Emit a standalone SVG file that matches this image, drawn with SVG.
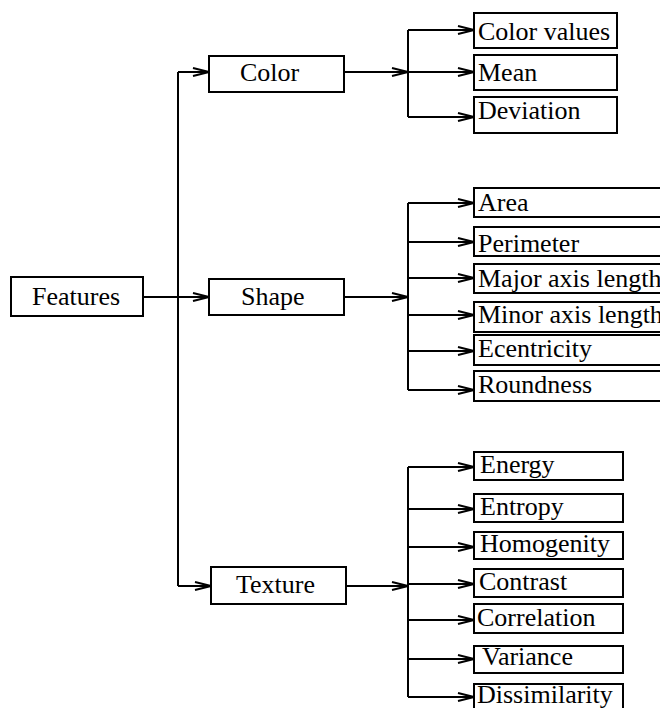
<svg xmlns="http://www.w3.org/2000/svg" width="660" height="708" viewBox="0 0 660 708">
<defs>
<marker id="arr" markerUnits="userSpaceOnUse" markerWidth="20" markerHeight="12" refX="17" refY="5" orient="auto">
<path d="M1,1 L17,5 L1,9" fill="none" stroke="#000" stroke-width="2"/>
</marker>
<style>
rect{fill:#fff;stroke:#000;stroke-width:2}
text{font-family:"Liberation Serif","Times New Roman",serif;font-size:26px;fill:#000}
.c path{fill:none;stroke:#000;stroke-width:2}
</style>
</defs>
<rect x="0" y="0" width="660" height="708" style="stroke:none"/>
<g class="c" id="connectors">
<path d="M178,72 V586"/>
<path d="M178,72 H209" marker-end="url(#arr)"/>
<path d="M143,297 H209" marker-end="url(#arr)"/>
<path d="M178,586 H211" marker-end="url(#arr)"/>
<path d="M344,72 H408" marker-end="url(#arr)"/>
<path d="M408,30 V117"/>
<path d="M408,30 H474" marker-end="url(#arr)"/>
<path d="M408,72 H474" marker-end="url(#arr)"/>
<path d="M408,117 H474" marker-end="url(#arr)"/>
<path d="M344,297 H408" marker-end="url(#arr)"/>
<path d="M408,203 V390"/>
<path d="M408,203 H474" marker-end="url(#arr)"/>
<path d="M408,242 H474" marker-end="url(#arr)"/>
<path d="M408,278 H474" marker-end="url(#arr)"/>
<path d="M408,315 H474" marker-end="url(#arr)"/>
<path d="M408,351 H474" marker-end="url(#arr)"/>
<path d="M408,390 H474" marker-end="url(#arr)"/>
<path d="M346,586 H408" marker-end="url(#arr)"/>
<path d="M408,467 V697"/>
<path d="M408,467 H474" marker-end="url(#arr)"/>
<path d="M408,509 H474" marker-end="url(#arr)"/>
<path d="M408,547 H474" marker-end="url(#arr)"/>
<path d="M408,584 H474" marker-end="url(#arr)"/>
<path d="M408,620 H474" marker-end="url(#arr)"/>
<path d="M408,659 H474" marker-end="url(#arr)"/>
<path d="M408,697 H474" marker-end="url(#arr)"/>
</g>
<g id="features"><rect x="11" y="277" width="132" height="39"/><text x="32" y="305">Features</text></g>
<g id="color"><rect x="209" y="56" width="135" height="36"/><text x="240" y="81">Color</text></g>
<g id="shape"><rect x="209" y="279" width="135" height="36"/><text x="241" y="305">Shape</text></g>
<g id="texture"><rect x="211" y="567" width="135" height="37"/><text x="236" y="593">Texture</text></g>
<g id="color-values"><rect x="474" y="13" width="143" height="35"/><text x="478" y="40">Color values</text></g>
<g id="mean"><rect x="474" y="55" width="143" height="35"/><text x="478" y="81">Mean</text></g>
<g id="deviation"><rect x="474" y="97" width="143" height="36"/><text x="478" y="119">Deviation</text></g>
<g id="area"><rect x="474" y="188" width="210" height="29"/><text x="478" y="211">Area</text></g>
<g id="perimeter"><rect x="474" y="227" width="210" height="29"/><text x="478" y="252">Perimeter</text></g>
<g id="major"><rect x="474" y="264" width="210" height="29"/><text x="478" y="287">Major axis length</text></g>
<g id="minor"><rect x="474" y="302" width="210" height="30"/><text x="478" y="323">Minor axis length</text></g>
<g id="ecentricity"><rect x="474" y="335" width="210" height="30"/><text x="478" y="357">Ecentricity</text></g>
<g id="roundness"><rect x="474" y="371" width="210" height="30"/><text x="478" y="393">Roundness</text></g>
<g id="energy"><rect x="474" y="452" width="149" height="28"/><text x="480" y="473">Energy</text></g>
<g id="entropy"><rect x="474" y="494" width="149" height="28"/><text x="480" y="515">Entropy</text></g>
<g id="homogenity"><rect x="474" y="532" width="149" height="27"/><text x="480" y="552">Homogenity</text></g>
<g id="contrast"><rect x="474" y="569" width="149" height="28"/><text x="479" y="590">Contrast</text></g>
<g id="correlation"><rect x="474" y="604" width="149" height="29"/><text x="477" y="626">Correlation</text></g>
<g id="variance"><rect x="474" y="646" width="149" height="27"/><text x="482" y="665">Variance</text></g>
<g id="dissimilarity"><rect x="474" y="684" width="149" height="40"/><text x="477" y="703">Dissimilarity</text></g>
</svg>
